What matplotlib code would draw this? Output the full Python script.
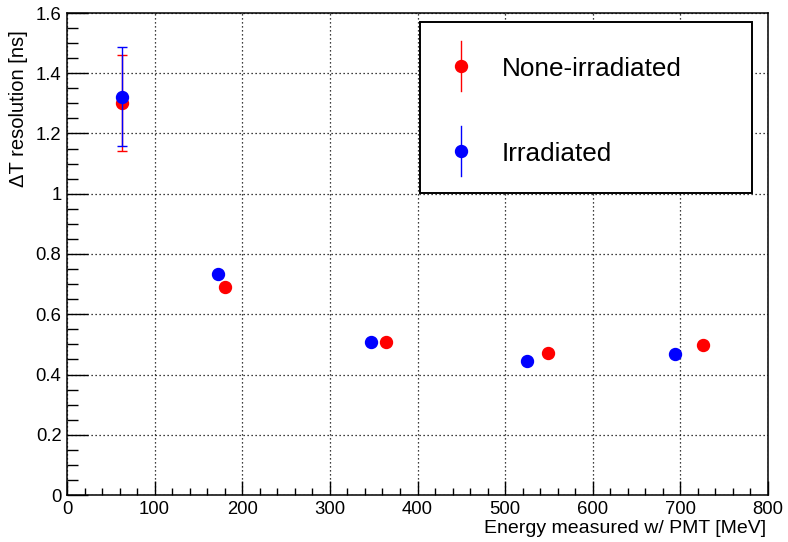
import matplotlib
matplotlib.use("Agg")
import matplotlib.pyplot as plt
from matplotlib.patches import Rectangle
from matplotlib.ticker import MultipleLocator, FuncFormatter

plt.rcParams['font.family'] = ['Liberation Sans', 'DejaVu Sans']

# ---- data ----
energy_none = [63, 180.5, 364, 548.5, 725.5]
res_none = [1.300, 0.691, 0.509, 0.471, 0.498]
err_none = [0.159, 0.005, 0.005, 0.005, 0.005]

energy_irr = [63, 172.5, 347.5, 524.5, 694]
res_irr = [1.322, 0.734, 0.507, 0.446, 0.469]
err_irr = [0.164, 0.005, 0.005, 0.005, 0.005]

legend_labels = ["None-irradiated", "Irradiated"]
xlabel = "Energy measured w/ PMT [MeV]"
ylabel = "\u0394T resolution [ns]"

W, H = 788, 542
fig = plt.figure(figsize=(W / 100, H / 100), dpi=100)
L, R, T, B = 67, 768, 13, 495
ax = fig.add_axes([L / W, (H - B) / H, (R - L) / W, (B - T) / H])

for xs, ys, es, col, z in [(energy_none, res_none, err_none, '#ff0000', 3),
                           (energy_irr, res_irr, err_irr, '#0000ff', 4)]:
    ax.errorbar(xs, ys, yerr=es, fmt='o', color=col, mec=col, ms=8.6,
                elinewidth=1.0, capsize=3.3, capthick=1.0, zorder=z)

ax.set_xlim(0, 800)
ax.set_ylim(0, 1.6)
ax.xaxis.set_major_locator(MultipleLocator(100))
ax.xaxis.set_minor_locator(MultipleLocator(20))
ax.yaxis.set_major_locator(MultipleLocator(0.2))
ax.yaxis.set_minor_locator(MultipleLocator(0.05))
ax.yaxis.set_major_formatter(FuncFormatter(lambda v, p: f"{v:.10g}" if abs(v) > 1e-9 else "0"))
ax.xaxis.set_major_formatter(FuncFormatter(lambda v, p: f"{v:.0f}"))

ax.tick_params(axis='both', which='both', direction='in', top=False, right=False,
               labelsize=13.3, colors='black', width=1.0)
ax.tick_params(axis='y', which='major', length=15, pad=4)
ax.tick_params(axis='y', which='minor', length=8)
ax.tick_params(axis='x', which='major', length=10, pad=4)
ax.tick_params(axis='x', which='minor', length=5)

ax.grid(True, which='major', color='black', linestyle=(0, (1, 2.2)), linewidth=0.9)
ax.set_axisbelow(True)
for s in ax.spines.values():
    s.set_linewidth(1.1)
    s.set_color('black')

ax.set_xlabel(xlabel, fontsize=14, loc='right')
ax.xaxis.set_label_coords(0.997, -0.052)
ax.set_ylabel(ylabel, fontsize=14.5, loc='top')
ax.yaxis.set_label_coords(-0.055, 0.965)

# ---- legend box (drawn in axes coordinates) ----
def ax_x(px):
    return (px - L) / (R - L)

def ax_y(py):
    return (B - py) / (B - T)

x0, x1 = ax_x(420), ax_x(752)
y0, y1 = ax_y(193), ax_y(22)
ax.add_patch(Rectangle((x0, y0), x1 - x0, y1 - y0, transform=ax.transAxes,
                       facecolor='white', edgecolor='black', lw=1.4, zorder=10,
                       clip_on=False))
entries = [(legend_labels[0], '#ff0000', 66), (legend_labels[1], '#0000ff', 151)]
half = 25 / (B - T)
for lab, col, py in entries:
    mx, my = ax_x(461), ax_y(py)
    ax.plot([mx, mx], [my - half, my + half], color=col, lw=1.0,
            transform=ax.transAxes, zorder=11, clip_on=False)
    ax.plot([mx], [my], 'o', color=col, mec=col, ms=8.6,
            transform=ax.transAxes, zorder=12, clip_on=False)
    ax.text(ax_x(502), ax_y(py + 3), lab, fontsize=18.8, va='center', ha='left',
            transform=ax.transAxes, zorder=12)

fig.savefig("out.png", dpi=100, facecolor='white')
